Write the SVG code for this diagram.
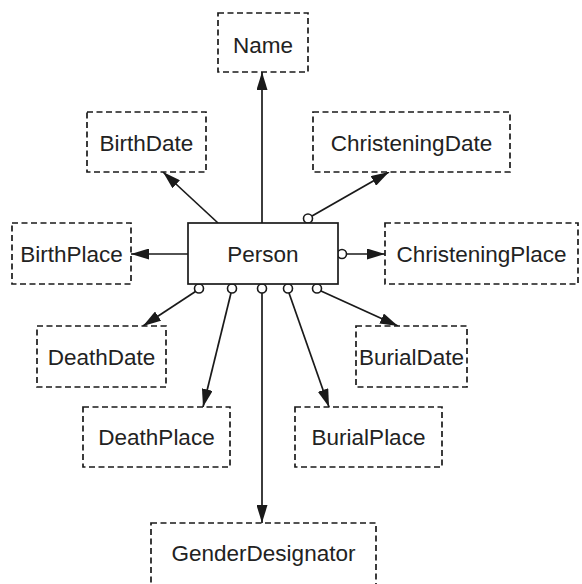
<svg xmlns="http://www.w3.org/2000/svg" width="582" height="584" viewBox="0 0 582 584">
<style>
.box{fill:#fff;stroke:#1a1a1a;stroke-width:1.7;stroke-dasharray:6,3.5}
.main{fill:#fff;stroke:#1a1a1a;stroke-width:1.7}
.t{font-family:"Liberation Sans",Arial,sans-serif;font-size:22.5px;fill:#222;text-anchor:middle;dominant-baseline:central}
.c{stroke:#1a1a1a;stroke-width:1.7;fill:none}
.o{fill:#fff;stroke:#1a1a1a;stroke-width:1.6}
</style>
<defs>
<marker id="ah" viewBox="0 0 18 11" refX="18" refY="5.5" markerWidth="18" markerHeight="11" markerUnits="userSpaceOnUse" orient="auto">
<path d="M0,0 L18,5.5 L0,11 Z" fill="#1a1a1a"/>
</marker>
</defs>
<g id="connectors">
<line class="c" x1="262" y1="223" x2="262" y2="72" marker-end="url(#ah)"/>
<line class="c" x1="218" y1="223" x2="163" y2="172" marker-end="url(#ah)"/>
<line class="c" x1="312" y1="216" x2="389" y2="172" marker-end="url(#ah)"/>
<line class="c" x1="188" y1="254" x2="131" y2="254" marker-end="url(#ah)"/>
<line class="c" x1="346.5" y1="254" x2="385" y2="254" marker-end="url(#ah)"/>
<line class="c" x1="195.5" y1="291.5" x2="143" y2="326" marker-end="url(#ah)"/>
<line class="c" x1="231" y1="293" x2="203" y2="407" marker-end="url(#ah)"/>
<line class="c" x1="262" y1="293" x2="262" y2="523" marker-end="url(#ah)"/>
<line class="c" x1="289" y1="293" x2="329" y2="407" marker-end="url(#ah)"/>
<line class="c" x1="321" y1="291" x2="398" y2="326" marker-end="url(#ah)"/>
<circle class="o" cx="308" cy="218.5" r="4.5"/>
<circle class="o" cx="342" cy="254" r="4.5"/>
<circle class="o" cx="199" cy="288.5" r="4.5"/>
<circle class="o" cx="232" cy="288.5" r="4.5"/>
<circle class="o" cx="262" cy="288.5" r="4.5"/>
<circle class="o" cx="288" cy="288.5" r="4.5"/>
<circle class="o" cx="317" cy="288.5" r="4.5"/>
</g>
<g id="Name"><rect class="box" x="218" y="13" width="90" height="59"/><text class="t" x="263" y="45">Name</text></g>
<g id="BirthDate"><rect class="box" x="87" y="112" width="119" height="60"/><text class="t" x="146.5" y="143">BirthDate</text></g>
<g id="ChristeningDate"><rect class="box" x="313" y="112" width="197" height="60"/><text class="t" x="411.5" y="143">ChristeningDate</text></g>
<g id="BirthPlace"><rect class="box" x="12" y="223" width="119" height="61"/><text class="t" x="71.5" y="254">BirthPlace</text></g>
<g id="Person"><rect class="main" x="188" y="223" width="150" height="61"/><text class="t" x="263" y="254">Person</text></g>
<g id="ChristeningPlace"><rect class="box" x="385" y="223" width="193" height="61"/><text class="t" x="481.5" y="254">ChristeningPlace</text></g>
<g id="DeathDate"><rect class="box" x="37" y="326" width="129" height="61"/><text class="t" x="101.5" y="357">DeathDate</text></g>
<g id="BurialDate"><rect class="box" x="356" y="326" width="111" height="61"/><text class="t" x="411.5" y="357">BurialDate</text></g>
<g id="DeathPlace"><rect class="box" x="83" y="407" width="147" height="60"/><text class="t" x="156.5" y="437">DeathPlace</text></g>
<g id="BurialPlace"><rect class="box" x="295" y="407" width="147" height="60"/><text class="t" x="368.5" y="437">BurialPlace</text></g>
<g id="GenderDesignator"><rect class="box" x="151" y="523" width="225" height="66"/><text class="t" x="263.5" y="553">GenderDesignator</text></g>
</svg>
